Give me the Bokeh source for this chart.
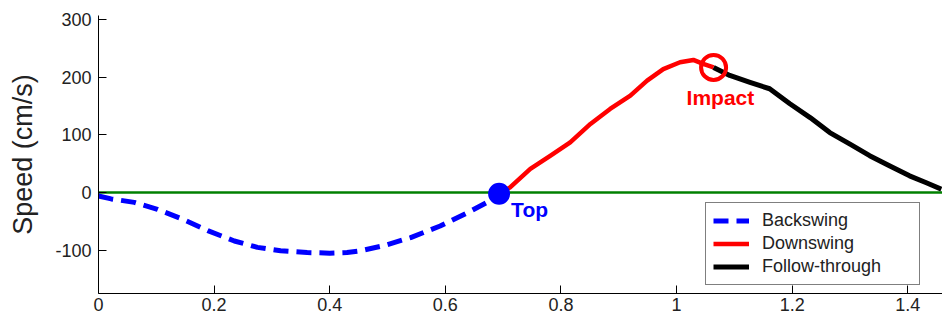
from bokeh.plotting import figure
from bokeh.models import Span, Label, Legend, LegendItem, FixedTicker, Range1d
from bokeh.embed import file_html
from bokeh.resources import INLINE

# ---- data ----
back_t = [0.0, 0.022, 0.062, 0.102, 0.145, 0.189, 0.235, 0.275, 0.315, 0.361, 0.40, 0.43,
          0.453, 0.494, 0.54, 0.591, 0.638, 0.672, 0.693]
back_v = [-6, -11, -17, -29, -46, -66, -84, -95, -101, -104, -105, -104,
          -101, -92, -78, -58, -35, -17, -2]

down_t = [0.693, 0.712, 0.747, 0.782, 0.816, 0.851, 0.885, 0.92, 0.949, 0.977, 1.006,
          1.029, 1.046, 1.064]
down_v = [-2, 9, 41, 64, 87, 119, 145, 168, 194, 214, 226, 230, 223, 217]

follow_t = [1.064, 1.092, 1.127, 1.161, 1.196, 1.231, 1.265, 1.3, 1.334, 1.369, 1.403,
            1.432, 1.458]
follow_v = [217, 203, 191, 180, 154, 130, 104, 84, 64, 46, 29, 17, 6]

top_t = [0.693]
top_v = [-2]
impact_t = [1.064]
impact_v = [217]

x_ticks = [0, 0.2, 0.4, 0.6, 0.8, 1.0, 1.2, 1.4]
x_tick_labels = ["0", "0.2", "0.4", "0.6", "0.8", "1", "1.2", "1.4"]
y_ticks = [-100, 0, 100, 200, 300]
y_tick_labels = ["-100", "0", "100", "200", "300"]

series_names = ["Backswing", "Downswing", "Follow-through"]
y_label = "Speed (cm/s)"

FONT = "Liberation Sans"

p = figure(width=942, height=323, output_backend="svg", toolbar_location=None,
           x_range=Range1d(0, 1.46), y_range=Range1d(-175, 307),
           min_border_left=98, min_border_right=0, min_border_top=15, min_border_bottom=30)
p.outline_line_color = None
p.xgrid.visible = False
p.ygrid.visible = False
p.background_fill_color = "white"

zero = Span(location=0, dimension="width", line_color="#008000", line_width=2.5, level="underlay")
p.add_layout(zero)

r_back = p.line(back_t, back_v, line_color="#0000ff", line_width=5, line_dash="15 8")
r_down = p.line(down_t, down_v, line_color="#ff0000", line_width=4.5, line_join="round")
r_follow = p.line(follow_t, follow_v, line_color="#000000", line_width=5, line_join="round")

p.scatter(top_t, top_v, size=22, fill_color="#0000ff", line_color=None)
p.scatter(impact_t, impact_v, size=25, fill_color=None, line_color="#ff0000", line_width=4)

p.add_layout(Label(x=top_t[0], y=top_v[0], text="Top", x_offset=12, y_offset=-16,
                   text_font=FONT, text_font_size="21px", text_font_style="bold",
                   text_color="#0000ff", text_baseline="alphabetic"))
p.add_layout(Label(x=impact_t[0], y=impact_v[0], text="Impact", x_offset=-27, y_offset=-30,
                   text_font=FONT, text_font_size="21px", text_font_style="bold",
                   text_color="#ff0000", text_baseline="alphabetic"))

# axes
for ax in (p.xaxis[0], p.yaxis[0]):
    ax.axis_line_color = "black"
    ax.axis_line_width = 1
    ax.major_tick_in = 8
    ax.major_tick_out = 0
    ax.minor_tick_line_color = None
    ax.major_tick_line_color = "black"
    ax.major_label_text_font = FONT
    ax.major_label_text_font_size = "18px"
    ax.major_label_text_color = "#222222"

p.xaxis[0].ticker = FixedTicker(ticks=x_ticks)
p.xaxis[0].major_label_overrides = dict(zip(x_ticks, x_tick_labels))
p.xaxis[0].major_label_standoff = 4
p.yaxis[0].ticker = FixedTicker(ticks=y_ticks)
p.yaxis[0].major_label_overrides = dict(zip(y_ticks, y_tick_labels))
p.yaxis[0].major_label_standoff = 7
p.yaxis[0].axis_label = y_label
p.yaxis[0].axis_label_text_font = FONT
p.yaxis[0].axis_label_text_font_size = "27px"
p.yaxis[0].axis_label_text_font_style = "normal"
p.yaxis[0].axis_label_text_color = "#222222"
p.yaxis[0].axis_label_standoff = 14

legend = Legend(items=[LegendItem(label=series_names[0], renderers=[r_back]),
                       LegendItem(label=series_names[1], renderers=[r_down]),
                       LegendItem(label=series_names[2], renderers=[r_follow])],
                location=(607, 8))
legend.border_line_color = "black"
legend.border_line_width = 1
legend.background_fill_color = "white"
legend.background_fill_alpha = 1
legend.label_text_font = FONT
legend.label_text_font_size = "18px"
legend.label_text_color = "#222222"
legend.glyph_width = 36
legend.glyph_height = 21
legend.label_height = 21
legend.label_width = 150
legend.label_standoff = 13
legend.spacing = 2
legend.padding = 7
legend.margin = 0
p.add_layout(legend, "center")

open("out.html", "w").write(file_html(p, INLINE))
